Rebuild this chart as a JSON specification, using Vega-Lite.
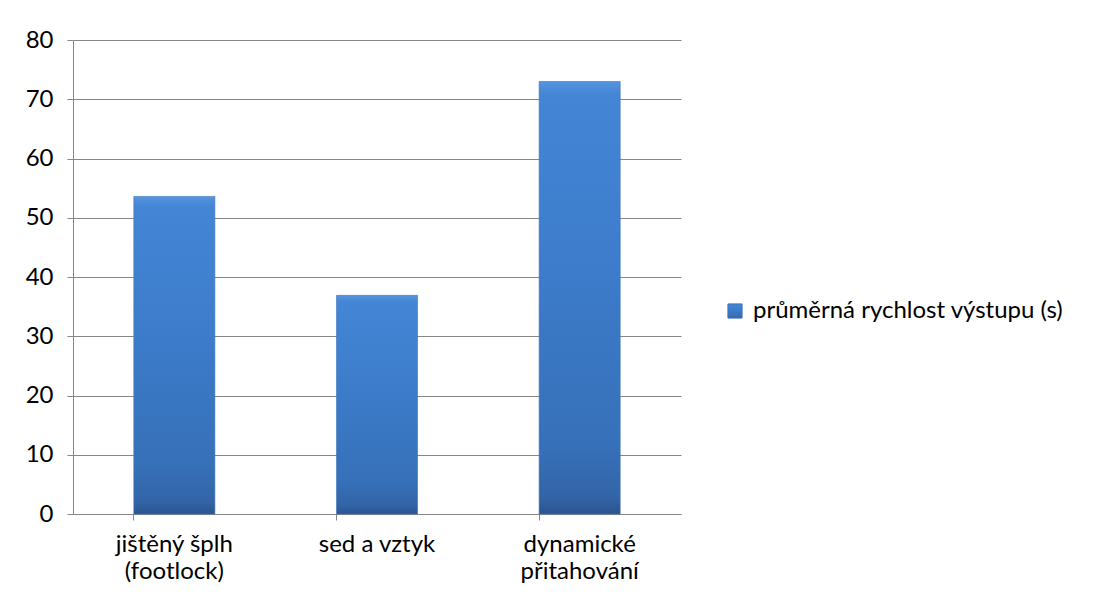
{
  "$schema": "https://vega.github.io/schema/vega-lite/v6.json",
  "autosize": {"type": "none"},
  "padding": {"left": 73, "top": 40, "right": 414, "bottom": 94},
  "width": 608,
  "height": 474,
  "background": "white",
  "config": {
    "font": "Lato",
    "view": {"stroke": null}
  },
  "data": {
    "values": [
      {"kategorie": "jištěný šplh (footlock)", "serie": "průměrná rychlost výstupu (s)", "hodnota": 53.6},
      {"kategorie": "sed a vztyk", "serie": "průměrná rychlost výstupu (s)", "hodnota": 36.9},
      {"kategorie": "dynamické přitahování", "serie": "průměrná rychlost výstupu (s)", "hodnota": 73.0}
    ]
  },
  "mark": {
    "type": "bar",
    "fill": {
      "gradient": "linear", "x1": 0, "y1": 0, "x2": 0, "y2": 1,
      "stops": [
        {"offset": 0, "color": "#5595e0"},
        {"offset": 0.03, "color": "#4485d5"},
        {"offset": 0.4, "color": "#3d7dcc"},
        {"offset": 0.85, "color": "#3670b8"},
        {"offset": 0.96, "color": "#3364a8"},
        {"offset": 1, "color": "#2b5490"}
      ]
    },
    "strokeWidth": 0.6
  },
  "encoding": {
    "x": {
      "field": "kategorie",
      "type": "nominal",
      "sort": null,
      "scale": {"paddingInner": 0.6, "paddingOuter": 0.3},
      "axis": {
        "title": null,
        "labelAngle": 0,
        "labelFontSize": 24,
        "labelColor": "#000000",
        "labelPadding": 12,
        "labelLineHeight": 27,
        "labelExpr": "datum.label == 'sed a vztyk' ? datum.label : datum.label == 'dynamické přitahování' ? ['dynamické','přitahování'] : ['jištěný šplh','(footlock)']",
        "bandPosition": 0,
        "tickSize": 6,
        "tickColor": "#868686",
        "domainColor": "#868686",
        "grid": false
      }
    },
    "y": {
      "field": "hodnota",
      "type": "quantitative",
      "scale": {"domain": [0, 80], "nice": false},
      "axis": {
        "title": null,
        "values": [0, 10, 20, 30, 40, 50, 60, 70, 80],
        "labelFontSize": 24,
        "labelColor": "#000000",
        "labelPadding": 14,
        "tickSize": 6,
        "tickColor": "#868686",
        "domainColor": "#868686",
        "gridColor": "#868686",
        "gridOpacity": 1
      }
    },
    "stroke": {
      "field": "serie",
      "type": "nominal",
      "scale": {"range": ["#3a74bb"]},
      "legend": {
        "title": null,
        "orient": "none",
        "legendX": 650,
        "legendY": 259,
        "symbolType": "square",
        "symbolSize": 200,
        "symbolFillColor": "#4583d2",
        "symbolStrokeWidth": 1,
        "labelFontSize": 24,
        "labelColor": "#000000",
        "labelOffset": 6,
        "labelLimit": 400
      }
    }
  }
}
